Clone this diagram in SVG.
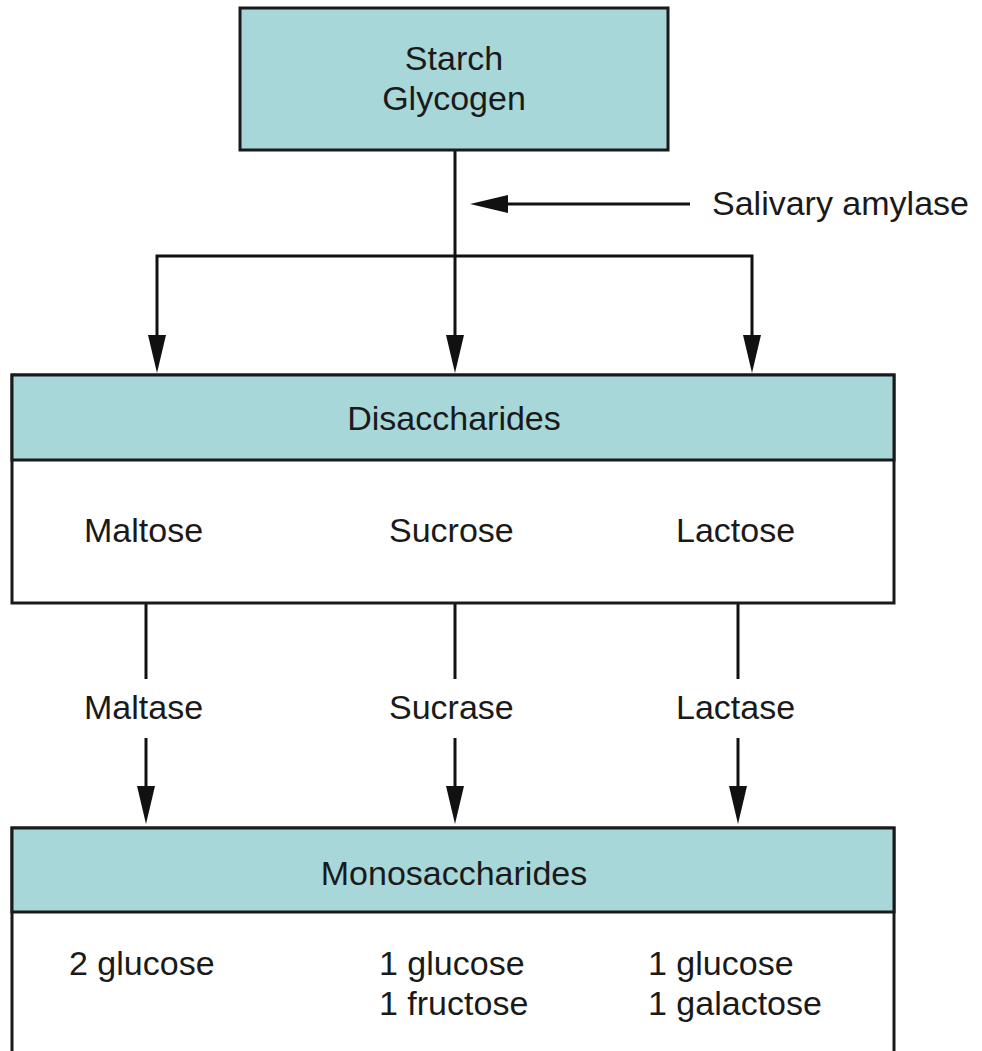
<svg xmlns="http://www.w3.org/2000/svg" width="982" height="1051" viewBox="0 0 982 1051">
<style>
text{font-family:"Liberation Sans",Arial,sans-serif;font-size:34px;fill:#1a1a1a}
.c{text-anchor:middle}
.hdr{fill:#a7d7d8;stroke:#1a1a1a;stroke-width:3}
.body{fill:#ffffff;stroke:#1a1a1a;stroke-width:3}
.ln{fill:none;stroke:#111;stroke-width:3}
.ah{fill:#111}
</style>
<defs>
<path id="down" d="M-9,-38 L9,-38 L0,0 Z"/>
</defs>
<rect width="982" height="1051" fill="#ffffff"/>
<g id="connectors">
<line class="ln" x1="455" y1="151" x2="455" y2="340"/>
<polyline class="ln" points="157,340 157,256 752,256 752,340"/>
<line class="ln" x1="690" y1="204" x2="505" y2="204"/>
<path class="ah" d="M470,204 L508,195 L508,213 Z"/>
<use href="#down" class="ah" x="157" y="373"/>
<use href="#down" class="ah" x="455" y="373"/>
<use href="#down" class="ah" x="752" y="373"/>
<line class="ln" x1="146" y1="603" x2="146" y2="679"/>
<line class="ln" x1="455" y1="603" x2="455" y2="679"/>
<line class="ln" x1="738" y1="603" x2="738" y2="679"/>
<line class="ln" x1="146" y1="738" x2="146" y2="790"/>
<line class="ln" x1="455" y1="738" x2="455" y2="790"/>
<line class="ln" x1="738" y1="738" x2="738" y2="790"/>
<use href="#down" class="ah" x="146" y="824"/>
<use href="#down" class="ah" x="455" y="824"/>
<use href="#down" class="ah" x="738" y="824"/>
</g>
<g id="starch">
<rect class="hdr" x="240" y="8" width="428" height="142"/>
<text class="c" x="454" y="70">Starch</text>
<text class="c" x="454" y="110">Glycogen</text>
</g>
<g id="amylase-label">
<text x="712" y="215">Salivary amylase</text>
</g>
<g id="disaccharides">
<rect class="body" x="12" y="375" width="882" height="228"/>
<rect class="hdr" x="12" y="375" width="882" height="85"/>
<text class="c" x="454" y="430">Disaccharides</text>
<text x="84" y="542">Maltose</text>
<text x="389" y="542">Sucrose</text>
<text x="676" y="542">Lactose</text>
</g>
<g id="enzymes">
<text x="84" y="719">Maltase</text>
<text x="389" y="719">Sucrase</text>
<text x="676" y="719">Lactase</text>
</g>
<g id="monosaccharides">
<rect class="body" x="12" y="828" width="882" height="240"/>
<rect class="hdr" x="12" y="828" width="882" height="84"/>
<text class="c" x="454" y="885">Monosaccharides</text>
<text x="69" y="975">2 glucose</text>
<text x="379" y="975">1 glucose</text>
<text x="379" y="1015">1 fructose</text>
<text x="648" y="975">1 glucose</text>
<text x="648" y="1015">1 galactose</text>
</g>
</svg>
